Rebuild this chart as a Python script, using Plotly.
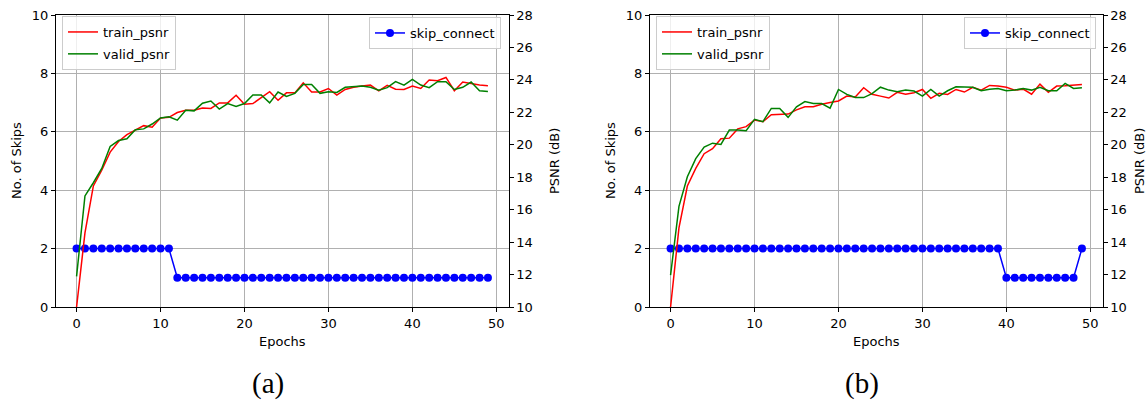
import plotly.graph_objects as go

epochs = list(range(50))

train_a = [10.0, 14.57, 17.46, 18.43, 19.55, 20.2, 20.63, 20.91, 21.18, 21.08,
           21.65, 21.69, 21.99, 22.13, 22.13, 22.26, 22.24, 22.58, 22.58, 23.05,
           22.5, 22.54, 22.9, 23.27, 22.74, 23.2, 23.2, 23.82, 23.25, 23.25,
           23.47, 23.06, 23.41, 23.54, 23.62, 23.68, 23.33, 23.66, 23.43, 23.41,
           23.62, 23.47, 23.99, 23.95, 24.15, 23.33, 23.87, 23.78, 23.68, 23.64]
valid_a = [11.89, 16.85, 17.66, 18.54, 19.9, 20.26, 20.37, 20.93, 20.98, 21.28,
           21.65, 21.73, 21.52, 22.13, 22.09, 22.56, 22.7, 22.2, 22.54, 22.36,
           22.54, 23.07, 23.07, 22.58, 23.25, 22.98, 23.17, 23.72, 23.72, 23.17,
           23.27, 23.23, 23.54, 23.58, 23.62, 23.54, 23.37, 23.52, 23.89, 23.68,
           24.03, 23.68, 23.52, 23.89, 23.89, 23.41, 23.54, 23.87, 23.33, 23.29]
skip_a = [2] * 12 + [1] * 38

train_b = [10.0, 14.88, 17.46, 18.54, 19.45, 19.76, 20.37, 20.41, 20.98, 21.12,
           21.52, 21.42, 21.85, 21.85, 21.89, 22.15, 22.34, 22.34, 22.5, 22.6,
           22.7, 23.0, 22.95, 23.52, 23.11, 23.0, 22.88, 23.23, 23.12, 23.21,
           23.41, 22.86, 23.17, 23.1, 23.41, 23.25, 23.54, 23.37, 23.66, 23.62,
           23.54, 23.37, 23.43, 23.12, 23.74, 23.23, 23.62, 23.64, 23.68, 23.72]
valid_b = [11.97, 16.2, 18.03, 19.15, 19.86, 20.1, 20.02, 20.91, 20.91, 20.87,
           21.57, 21.42, 22.24, 22.24, 21.69, 22.34, 22.66, 22.54, 22.54, 22.26,
           23.41, 23.11, 22.91, 22.91, 23.15, 23.55, 23.37, 23.27, 23.37, 23.31,
           23.0, 23.41, 23.0, 23.33, 23.58, 23.54, 23.54, 23.33, 23.43, 23.47,
           23.33, 23.37, 23.47, 23.37, 23.54, 23.33, 23.33, 23.78, 23.47, 23.52]
skip_b = [2] * 40 + [1] * 9 + [2]

x_ticks = [0, 10, 20, 30, 40, 50]
skip_ticks = [0, 2, 4, 6, 8, 10]
psnr_ticks = list(range(10, 29, 2))

W, H = 1146, 402
FONT = "DejaVu Sans"
FS = 13
MT, MB = 5, 5
PH = H - MT - MB

def py(pix):
    # pixel row -> paper fraction (paper spans the plot area between margins)
    return 1 - (pix - MT) / PH

fig = go.Figure()

def add_panel(train, valid, skip, xa, ya, ya2, leg_l, leg_r):
    fig.add_trace(go.Scatter(x=epochs, y=skip, name="skip_connect", mode="lines+markers",
                             line=dict(color="blue", width=1.5),
                             marker=dict(color="blue", size=8),
                             xaxis=xa, yaxis=ya, legend=leg_r))
    fig.add_trace(go.Scatter(x=epochs, y=train, name="train_psnr", mode="lines",
                             line=dict(color="red", width=1.5), legendgroup="t" + xa,
                             xaxis=xa, yaxis=ya2, legend=leg_l))
    fig.add_trace(go.Scatter(x=epochs, y=valid, name="valid_psnr", mode="lines",
                             line=dict(color="green", width=1.5), legendgroup="v" + xa,
                             xaxis=xa, yaxis=ya2, legend=leg_l))

add_panel(train_a, valid_a, skip_a, "x", "y", "y2", "legend", "legend2")
add_panel(train_b, valid_b, skip_b, "x2", "y3", "y4", "legend3", "legend4")

ydom = [py(307), py(15)]
dom_a = [56 / W, 508.5 / W]
dom_b = [650 / W, 1102.5 / W]

common_axis = dict(showline=True, linecolor="black", linewidth=1.3,
                   ticks="outside", ticklen=4, tickwidth=1.2, tickcolor="black",
                   zeroline=False, automargin=False,
                   tickfont=dict(family=FONT, size=FS, color="black"))

xcommon = dict(common_axis, range=[-2.45, 51.45], tickvals=x_ticks, showgrid=True,
               gridcolor="#b0b0b0", gridwidth=1.3, mirror=True)
ycommon = dict(common_axis, range=[0, 10], tickvals=skip_ticks, showgrid=True,
               gridcolor="#b0b0b0", gridwidth=1.3, mirror=True)
y2common = dict(common_axis, range=[10, 28], tickvals=psnr_ticks, showgrid=False,
                side="right")

legend_common = dict(bgcolor="rgba(255,255,255,0.8)", bordercolor="#cccccc",
                     borderwidth=1, font=dict(family=FONT, size=FS, color="black"),
                     itemwidth=30, tracegroupgap=2, traceorder="grouped")

fig.update_layout(
    width=W, height=H,
    margin=dict(l=0, r=0, t=MT, b=MB, pad=0),
    paper_bgcolor="white", plot_bgcolor="white",
    font=dict(family=FONT, size=FS, color="black"),
    xaxis=dict(xcommon, domain=dom_a, anchor="y"),
    yaxis=dict(ycommon, domain=ydom, anchor="x"),
    yaxis2=dict(y2common, overlaying="y", anchor="x"),
    xaxis2=dict(xcommon, domain=dom_b, anchor="y3"),
    yaxis3=dict(ycommon, domain=ydom, anchor="x2"),
    yaxis4=dict(y2common, overlaying="y3", anchor="x2"),
    legend=dict(legend_common, x=62 / W, y=py(16), xanchor="left", yanchor="top"),
    legend2=dict(legend_common, x=501 / W, y=py(17), xanchor="right", yanchor="top"),
    legend3=dict(legend_common, x=656 / W, y=py(16), xanchor="left", yanchor="top"),
    legend4=dict(legend_common, x=1096 / W, y=py(17), xanchor="right", yanchor="top"),
    showlegend=True,
)

def ann(text, x, y, angle=0, size=FS, family=FONT):
    fig.add_annotation(text=text, x=x / W, y=py(y), xref="paper", yref="paper",
                       showarrow=False, textangle=angle, xanchor="center", yanchor="middle",
                       font=dict(family=family, size=size, color="black"))

ann("No. of Skips", 16, 161, -90)
ann("PSNR (dB)", 554, 161, -90)
ann("Epochs", 282, 341)
ann("No. of Skips", 610, 161, -90)
ann("PSNR (dB)", 1139, 161, -90)
ann("Epochs", 876, 341)
ann("(a)", 268, 383, size=29, family="Liberation Serif")
ann("(b)", 862, 383, size=29, family="Liberation Serif")

fig.write_html("out.html")
